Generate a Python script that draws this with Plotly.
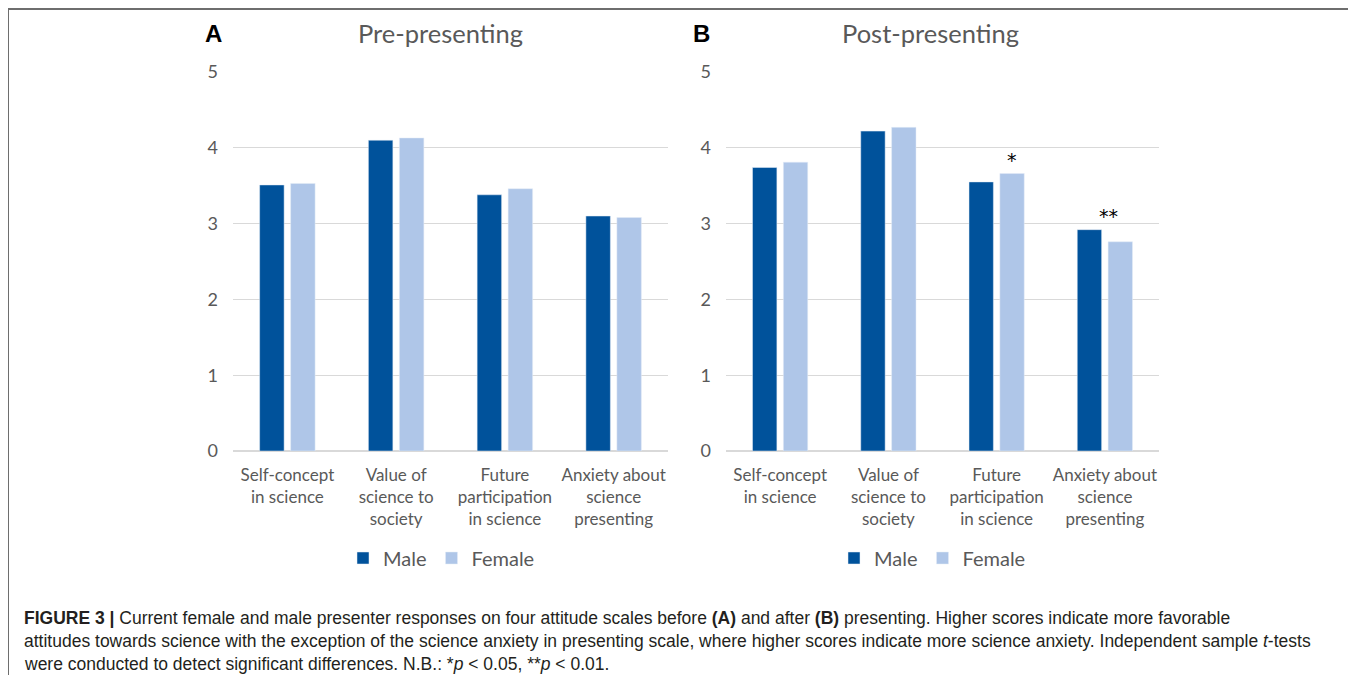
import plotly.graph_objects as go

categories = ["Self-concept<br>in science", "Value of<br>science to<br>society",
              "Future<br>participation<br>in science", "Anxiety about<br>science<br>presenting"]
pre_male = [3.51, 4.10, 3.38, 3.10]
pre_female = [3.53, 4.13, 3.46, 3.08]
post_male = [3.74, 4.22, 3.55, 2.92]
post_female = [3.81, 4.27, 3.66, 2.76]
post_stars_cat = [categories[2], categories[3]]
post_stars_text = ["*", "**"]
post_stars_y = [3.66, 2.92]
yticks = [0, 1, 2, 3, 4, 5]

# page has an 8px body margin; figure sized so that page coords match
OFF = 8
W, H = 1356 - OFF, 683 - 2 * OFF
MALE = "#00529B"
FEMALE = "#AFC6E8"
GRAY = "#595959"
GRID = "#D9D9D9"
FONT = "Lato"


def px(x):
    return (x - OFF) / W


def py(y):
    return 1 - (y - OFF) / H


fig = go.Figure()
fig.add_trace(go.Bar(x=categories, y=pre_male, name="Male", marker_color=MALE,
                     xaxis="x", yaxis="y", legend="legend"))
fig.add_trace(go.Bar(x=categories, y=pre_female, name="Female", marker_color=FEMALE,
                     xaxis="x", yaxis="y", legend="legend"))
fig.add_trace(go.Bar(x=categories, y=post_male, name="Male", marker_color=MALE,
                     xaxis="x2", yaxis="y2", legend="legend2"))
fig.add_trace(go.Bar(x=categories, y=post_female, name="Female", marker_color=FEMALE,
                     xaxis="x2", yaxis="y2", legend="legend2"))

ydom = [py(451), py(72)]
xaxis_common = dict(type="category", showgrid=False, zeroline=False, showline=False,
                    ticks="", tickfont=dict(family=FONT, size=17, color=GRAY),
                    ticklabelstandoff=12, range=[-0.5, 3.5], automargin=False,
                    fixedrange=True)
yaxis_common = dict(range=[0, 5], tickvals=yticks, showgrid=True, gridcolor=GRID,
                    gridwidth=1, zeroline=True, zerolinecolor=GRID, zerolinewidth=1.5,
                    showline=False, ticks="", automargin=False, fixedrange=True,
                    tickfont=dict(family=FONT, size=18, color=GRAY), ticklabelstandoff=14)

annotations = [
    dict(text="<b>A</b>", x=px(213), y=py(33), xref="paper", yref="paper", showarrow=False,
         xanchor="center", yanchor="middle",
         font=dict(family="Liberation Sans", size=24, color="black")),
    dict(text="Pre-presenting", x=px(440), y=py(33), xref="paper", yref="paper", showarrow=False,
         xanchor="center", yanchor="middle",
         font=dict(family=FONT, size=25.5, color=GRAY)),
    dict(text="<b>B</b>", x=px(702), y=py(33), xref="paper", yref="paper", showarrow=False,
         xanchor="center", yanchor="middle",
         font=dict(family="Liberation Sans", size=24, color="black")),
    dict(text="Post-presenting", x=px(930), y=py(33), xref="paper", yref="paper", showarrow=False,
         xanchor="center", yanchor="middle",
         font=dict(family=FONT, size=25.5, color=GRAY)),
]
shifts = [15.5, 4]
for c, t, yv, s in zip(post_stars_cat, post_stars_text, post_stars_y, shifts):
    annotations.append(dict(text=t, x=c, y=yv, xref="x2", yref="y2", showarrow=False,
                            xanchor="center", yanchor="middle", yshift=14, xshift=s,
                            font=dict(family="DejaVu Sans", size=19, color="black")))

caption = [
    "<b>FIGURE 3 |</b> Current female and male presenter responses on four attitude scales before <b>(A)</b> and after <b>(B)</b> presenting. Higher scores indicate more favorable",
    "attitudes towards science with the exception of the science anxiety in presenting scale, where higher scores indicate more science anxiety. Independent sample <i>t</i>-tests",
    "were conducted to detect significant differences. N.B.: *<i>p</i> &lt; 0.05, **<i>p</i> &lt; 0.01.",
]
for i, line in enumerate(caption):
    annotations.append(dict(text=line, x=px(22), y=py(618 + 23 * i), xref="paper", yref="paper",
                            xanchor="left", yanchor="middle", showarrow=False, align="left",
                            font=dict(family="Liberation Sans", size=17.5, color="#231F20")))

legend_common = dict(orientation="h", bgcolor="rgba(0,0,0,0)", borderwidth=0,
                     font=dict(family=FONT, size=20, color=GRAY), yanchor="middle",
                     xanchor="left", itemclick=False, itemdoubleclick=False,
                     traceorder="normal")

fig.update_layout(
    width=W, height=H,
    margin=dict(l=0, r=0, t=0, b=0, pad=0, autoexpand=False),
    paper_bgcolor="white", plot_bgcolor="white",
    barmode="group", bargap=0.43, bargroupgap=0.21,
    xaxis=dict(domain=[px(233), px(668)], anchor="y", **xaxis_common),
    yaxis=dict(domain=ydom, anchor="x", **yaxis_common),
    xaxis2=dict(domain=[px(726), px(1159)], anchor="y2", **xaxis_common),
    yaxis2=dict(domain=ydom, anchor="x2", **yaxis_common),
    legend=dict(x=px(343), y=py(558), **legend_common),
    legend2=dict(x=px(834), y=py(558), **legend_common),
    annotations=annotations,
    shapes=[
        dict(type="line", xref="paper", yref="paper", x0=px(8.5), x1=px(1353.5), y0=py(9), y1=py(9),
             line=dict(color="#6E6E6E", width=2)),
        dict(type="line", xref="paper", yref="paper", x0=px(8.5), x1=px(8.5), y0=py(8), y1=py(700),
             line=dict(color="#6E6E6E", width=1)),
        dict(type="line", xref="paper", yref="paper", x0=px(1353.5), x1=px(1353.5), y0=py(8), y1=py(700),
             line=dict(color="#6E6E6E", width=1)),
    ],
)

fig.write_html("out.html")
